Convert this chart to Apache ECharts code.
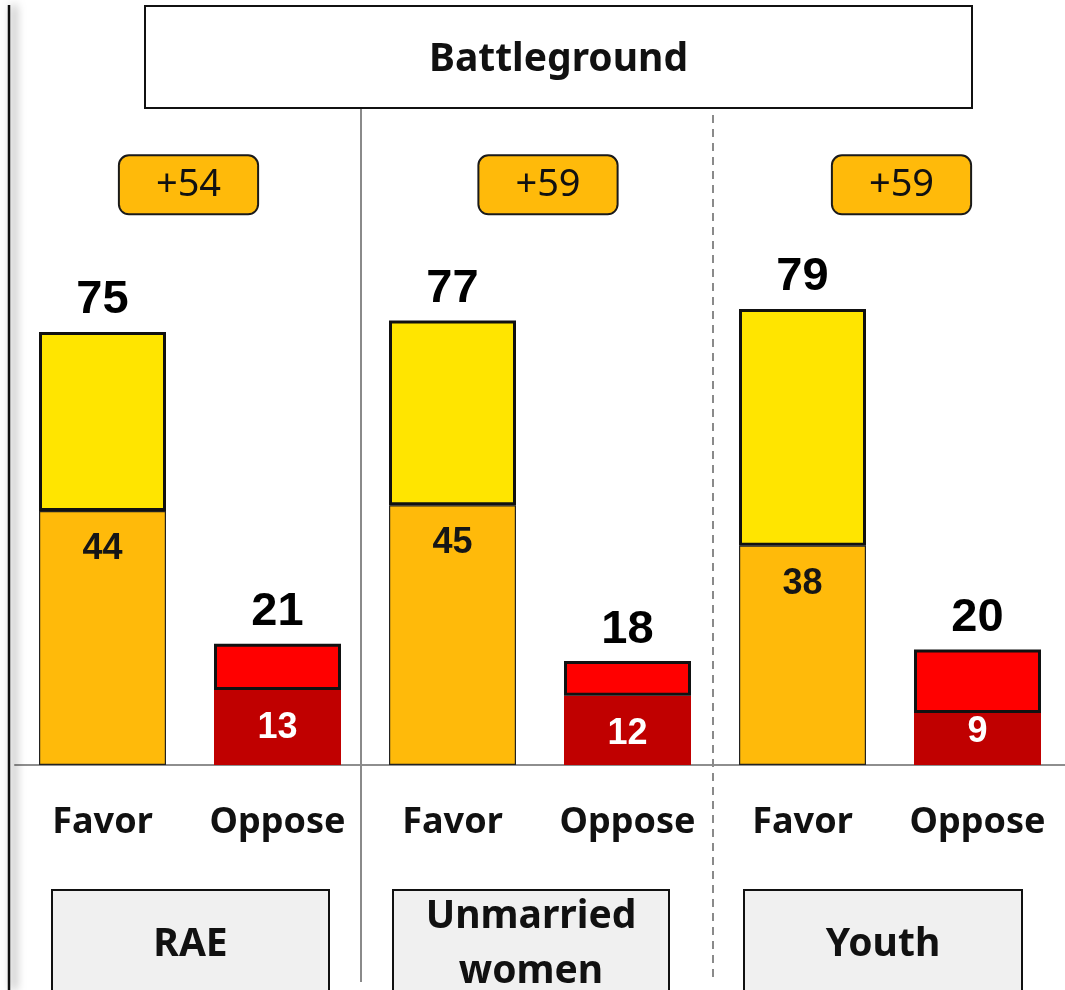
<!DOCTYPE html>
<html>
<head>
<meta charset="utf-8">
<script src="https://cdn.jsdelivr.net/npm/echarts@6/dist/echarts.min.js"></script>
<style>
html,body{margin:0;padding:0;background:#fff;}
#c{width:1065px;height:990px;}
</style>
</head>
<body>
<div id="c"></div>
<script>
// ---- data ----
const categories = ['Favor', 'Oppose', 'Favor', 'Oppose', 'Favor', 'Oppose'];
const groups = ['RAE', 'Unmarried\nwomen', 'Youth'];
const totals = [75, 21, 77, 18, 79, 20];
const strong = [44, 13, 45, 12, 38, 9];
const margins = ['+54', '+59', '+59'];
const title = 'Battleground';

// ---- style / layout ----
const BADGE_Y = 100.5;
const BADGE_DX = [-1.5, 8, 11.5];
const C = {
  favStrong: '#FFBA0A', favSoft: '#FFE500',
  oppStrong: '#C00000', oppSoft: '#FF0000',
  badge: '#FFBA0A'
};
const chart = echarts.init(document.getElementById('c'), null, {renderer: 'canvas'});

const isFavor = i => i % 2 === 0;
const strongData = strong.map((v, i) => ({
  value: v,
  itemStyle: {
    color: isFavor(i) ? C.favStrong : C.oppStrong,
    borderColor: isFavor(i) ? '#222' : C.oppStrong,
    borderWidth: isFavor(i) ? 1.2 : 0
  },
  label: {
    color: isFavor(i) ? '#161616' : '#fff',
    offset: v < 10 ? [0, -19] : [0, 0]
  }
}));
const softData = totals.map((t, i) => ({
  value: t - strong[i],
  itemStyle: { color: isFavor(i) ? C.favSoft : C.oppSoft }
}));
const badgeData = margins.map((m, i) => ({
  value: [i, BADGE_Y],
  label: { offset: [BADGE_DX[i], 0] }
}));

const numFont = '"Liberation Sans", Arial, sans-serif';
const txtFont = '"Noto Sans", "Open Sans", sans-serif';

const option = {
  animation: false,
  backgroundColor: '#fff',
  grid: { left: 15, right: 0, top: 765 - 130 * 5.773, bottom: 225 },
  xAxis: [{
    type: 'category',
    data: categories,
    axisLine: { show: true, lineStyle: { color: '#8e8e8e', width: 2 } },
    axisTick: { show: false },
    axisLabel: {
      margin: 38, fontSize: 36, fontWeight: 'bold', color: '#111',
      fontFamily: txtFont, lineHeight: 40, interval: 0
    }
  }, {
    type: 'category',
    data: groups,
    show: false
  }],
  yAxis: { type: 'value', min: 0, max: 130, show: false },
  series: [{
    type: 'bar', stack: 's', barWidth: 127, xAxisIndex: 0,
    data: strongData,
    label: {
      show: true, position: 'insideTop', distance: 20,
      fontSize: 36, fontWeight: 'bold', fontFamily: numFont
    },
    z: 2
  }, {
    type: 'bar', stack: 's', barWidth: 127, xAxisIndex: 0,
    data: softData,
    itemStyle: { borderColor: '#111', borderWidth: 3 },
    label: {
      show: true, position: 'top', distance: 8,
      fontSize: 47, fontWeight: 'bold', color: '#000', fontFamily: numFont,
      formatter: p => String(totals[p.dataIndex])
    },
    z: 3
  }, {
    type: 'scatter', xAxisIndex: 1, yAxisIndex: 0,
    symbolSize: 1, itemStyle: { color: 'rgba(0,0,0,0)', opacity: 1 },
    data: badgeData,
    label: {
      show: true, position: 'inside', opacity: 1,
      formatter: p => margins[p.dataIndex],
      fontFamily: txtFont, fontSize: 38, color: '#111',
      lineHeight: 39,
      backgroundColor: C.badge, borderColor: '#1a1a1a', borderWidth: 2,
      borderRadius: 9, padding: [11, 36, 7, 36]
    },
    emphasis: { disabled: true },
    z: 5
  }],
  graphic: [
    { type: 'line', shape: { x1: 9, y1: 5, x2: 9, y2: 990 },
      style: { stroke: '#111', lineWidth: 2.5, shadowColor: 'rgba(0,0,0,0.6)', shadowBlur: 10, shadowOffsetX: 5 }, z: 10 },
    { type: 'line', shape: { x1: 361, y1: 108, x2: 361, y2: 982 },
      style: { stroke: '#8a8a8a', lineWidth: 2 }, z: 1 },
    { type: 'line', shape: { x1: 713, y1: 115, x2: 713, y2: 982 },
      style: { stroke: '#8a8a8a', lineWidth: 2, lineDash: [8, 6] }, z: 1 },
    { type: 'rect', shape: { x: 145, y: 6, width: 827, height: 102 },
      style: { fill: '#fff', stroke: '#111', lineWidth: 2 }, z: 10 },
    { type: 'text', x: 558.5, y: 60, z: 11,
      style: { text: title, font: 'bold 39px ' + txtFont, fill: '#111', align: 'center', verticalAlign: 'middle' } },
    { type: 'rect', shape: { x: 52, y: 890, width: 277, height: 110 },
      style: { fill: '#F0F0F0', stroke: '#111', lineWidth: 2 }, z: 10 },
    { type: 'rect', shape: { x: 393, y: 890, width: 276, height: 110 },
      style: { fill: '#F0F0F0', stroke: '#111', lineWidth: 2 }, z: 10 },
    { type: 'rect', shape: { x: 744, y: 890, width: 278, height: 110 },
      style: { fill: '#F0F0F0', stroke: '#111', lineWidth: 2 }, z: 10 },
    { type: 'text', x: 190.5, y: 945, z: 11,
      style: { text: groups[0], font: 'bold 39px ' + txtFont, fill: '#111', align: 'center', verticalAlign: 'middle' } },
    { type: 'text', x: 531, y: 944, z: 11,
      style: { text: groups[1], font: 'bold 39px ' + txtFont, lineHeight: 55, fill: '#111', align: 'center', verticalAlign: 'middle' } },
    { type: 'text', x: 883, y: 945, z: 11,
      style: { text: groups[2], font: 'bold 39px ' + txtFont, fill: '#111', align: 'center', verticalAlign: 'middle' } }
  ]
};
chart.setOption(option);
</script>
</body>
</html>
